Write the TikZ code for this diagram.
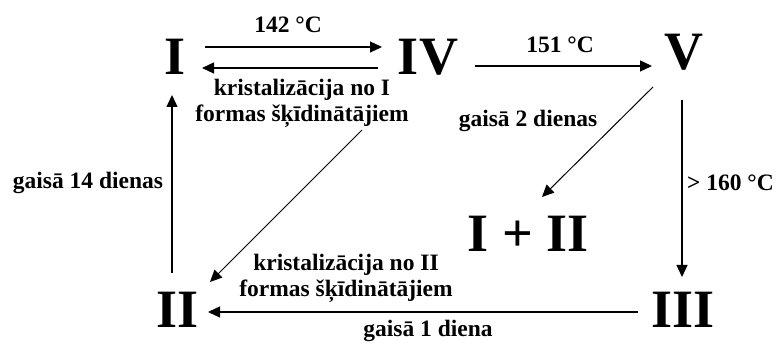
\documentclass[tikz,border=0pt]{standalone}
\usepackage{fontspec}
\setmainfont{Liberation Serif}
\usetikzlibrary{arrows.meta}

\begin{document}
\begin{tikzpicture}[x=1pt, y=1pt,
    big/.style={inner sep=0pt, font=\fontsize{54}{54}\selectfont\bfseries},
    lbl/.style={inner sep=0pt, align=center, font=\fontsize{23.5}{26}\selectfont\bfseries},
    arr/.style={line width=1.3pt, -{Triangle[length=12pt, width=11pt]}}]
    \useasboundingbox (0,0) rectangle (776,344);

    % Forms
    \node[big] (I) at (175,287) {I};
    \node[big] (IV) at (428,287) {IV};
    \node[big] (V) at (684,292) {V};
    \node[big] (II) at (178,34) {II};
    \node[big] (III) at (683,34) {III};
    \node[big] (mix) at (528,110) {I + II};

    % Transitions
    \draw[arr] ([shift={(30,10)}]I.center) -- ([shift={(-46,10)}]IV.center);
    \draw[arr] ([shift={(-50,-11)}]IV.center) -- ([shift={(27,-11)}]I.center);
    \draw[arr] ([shift={(47,-9)}]IV.center) -- ([shift={(-32,-14)}]V.center);
    \draw[arr, line width=1pt] ([shift={(-31,-35)}]V.center) -- ([shift={(14,37)}]mix.center);
    \draw[arr] ([shift={(-2,-48)}]V.center) -- ([shift={(-1,33)}]III.center);
    \draw[arr] ([shift={(-6,37)}]II.center) -- ([shift={(-3,-38)}]I.center);
    \draw[arr, line width=1pt] ([shift={(-66,-73)}]IV.center) -- ([shift={(32,28)}]II.center);
    \draw[arr] ([shift={(-45,-2)}]III.center) -- ([shift={(30,-2)}]II.center);

    % Labels
    \node[lbl] (t142) at (288,319) {142 °C};
    \node[lbl] (t151) at (560,299) {151 °C};
    \node[lbl] (krI) at (302,241) {kristalizācija no I\\formas šķīdinātājiem};
    \node[lbl] (g2) at (528,223) {gaisā 2 dienas};
    \node[lbl, anchor=east] (t160) at (774,161) {> 160 °C};
    \node[lbl] (g14) at (88,161) {gaisā 14 dienas};
    \node[lbl] (krII) at (346,66) {kristalizācija no II\\formas šķīdinātājiem};
    \node[lbl, anchor=base] (g1) at (428,7) {gaisā 1 diena};
\end{tikzpicture}
\end{document}
